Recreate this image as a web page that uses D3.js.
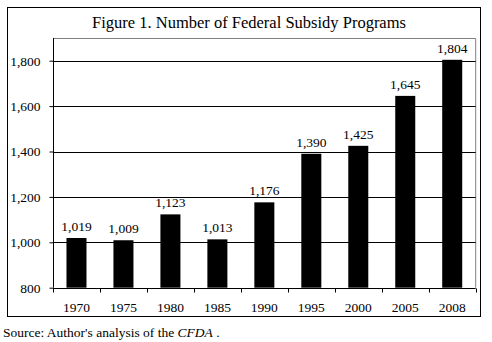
<!DOCTYPE html>
<html><head><meta charset="utf-8">
<script src="https://cdn.jsdelivr.net/npm/d3@7/dist/d3.min.js"></script>
<style>body{margin:0;background:#fff}svg text{font-family:"Liberation Serif","Times New Roman",serif;fill:#000}</style>
</head><body><svg id="c" width="492" height="342"></svg>
<script>
const categories = ["1970","1975","1980","1985","1990","1995","2000","2005","2008"];
const values = [1019,1009,1123,1013,1176,1390,1425,1645,1804];
const yTicks = [800,1000,1200,1400,1600,1800];

const svg = d3.select("#c");
const L=53, R=475.7, T=38, B=287.7;
svg.append("rect").attr("x",7.5).attr("y",7.5).attr("width",473).attr("height",309).attr("fill","#fff").attr("stroke","#000").attr("stroke-width",1);
svg.append("text").attr("x",249).attr("y",28).attr("text-anchor","middle").attr("font-size",16.5).text("Figure 1. Number of Federal Subsidy Programs");

const x = d3.scaleBand().domain(categories).range([L,R]).paddingInner(0.574).paddingOuter(0.287);
const y = d3.scaleLinear().domain([800,1900]).range([B,T]);
const fmt = d3.format(",");

svg.append("path").attr("d",`M${L},${T+0.5}H${R}V${B}`).attr("fill","none").attr("stroke","#808080");
svg.append("g").selectAll("line").data(yTicks.slice(1)).join("line")
  .attr("x1",L).attr("x2",R).attr("y1",d=>Math.round(y(d))+0.5).attr("y2",d=>Math.round(y(d))+0.5).attr("stroke","#000");

const ya = svg.append("g").attr("transform",`translate(${L+0.5},0)`).call(d3.axisLeft(y).tickValues(yTicks).tickFormat(fmt).tickSize(4).tickPadding(9));
ya.selectAll("text").attr("font-size",13.5);
ya.selectAll("line,path").attr("stroke","#000");
ya.select(".domain").attr("d",`M0,${T}V${B}`);

svg.append("g").selectAll("rect").data(values).join("rect")
  .attr("x",(d,i)=>x(categories[i])).attr("width",x.bandwidth())
  .attr("y",d=>y(d)).attr("height",d=>B-y(d)).attr("fill","#000");
svg.append("g").selectAll("text").data(values).join("text")
  .attr("x",(d,i)=>x(categories[i])+x.bandwidth()/2).attr("y",d=>y(d)-7)
  .attr("text-anchor","middle").attr("font-size",13.5).text(d=>fmt(d));

const bx = d3.scaleLinear().domain([0,categories.length]).range([L,R]);
const xa = svg.append("g").attr("transform",`translate(0,${Math.round(B)+0.5})`);
xa.append("line").attr("x1",L).attr("x2",R).attr("stroke","#000");
xa.selectAll(".tk").data(d3.range(categories.length+1)).join("line").attr("class","tk")
  .attr("x1",d=>Math.round(bx(d))+0.5).attr("x2",d=>Math.round(bx(d))+0.5).attr("y1",0).attr("y2",4).attr("stroke","#000");
xa.selectAll("text").data(categories).join("text")
  .attr("x",d=>x(d)+x.bandwidth()/2).attr("y",23).attr("text-anchor","middle").attr("font-size",13.5).text(d=>d);

const s = svg.append("text").attr("x",3).attr("y",337).attr("font-size",13.5);
s.append("tspan").text("Source: Author's analysis of the ");
s.append("tspan").attr("font-style","italic").text("CFDA");
s.append("tspan").text(" .");
</script></body></html>
